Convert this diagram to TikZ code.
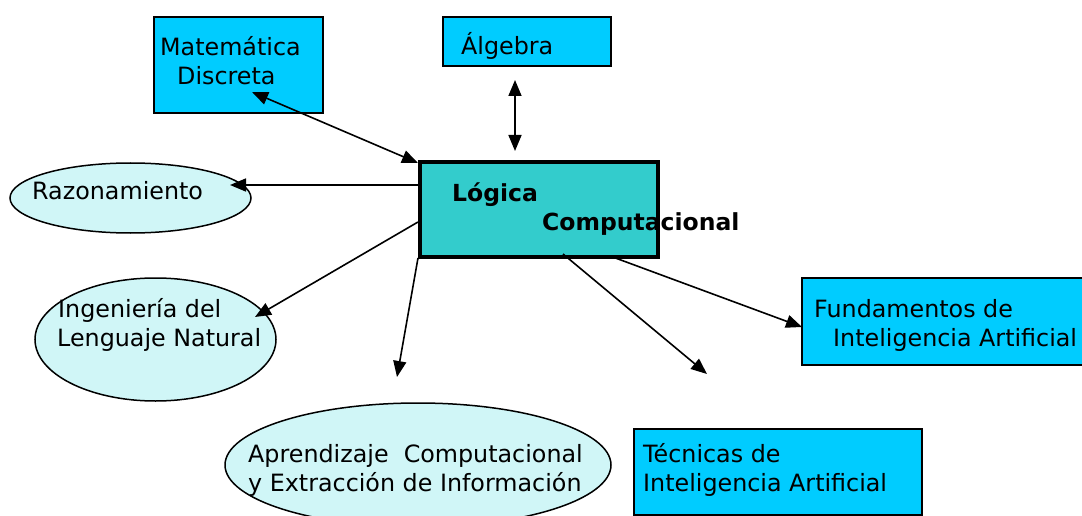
\documentclass[tikz,border=0pt]{standalone}
\usepackage{fontspec}
\setmainfont{DejaVu Sans}
\usetikzlibrary{arrows.meta,shapes.geometric}
\definecolor{boxblue}{RGB}{0,204,255}
\definecolor{logicfill}{RGB}{51,204,204}
\definecolor{ellfill}{RGB}{208,246,247}
\tikzset{
  boxshape/.style={draw=black, line width=1.5pt, fill=boxblue, rectangle, inner sep=0pt},
  ellshape/.style={draw=black, line width=1.5pt, fill=ellfill, ellipse, inner sep=0pt},
  logicshape/.style={draw=black, line width=3.5pt, fill=logicfill, rectangle, inner sep=0pt},
  txt/.style={anchor=base west, inner sep=0pt, font=\fontsize{23.8}{28}\selectfont},
  btxt/.style={anchor=base west, inner sep=0pt, font=\fontsize{23.5}{28}\selectfont\bfseries},
  conn/.style={line width=1.6pt, -{Triangle[length=16pt,width=13pt]}},
  biconn/.style={line width=1.6pt, {Triangle[length=16pt,width=13pt]}-{Triangle[length=16pt,width=13pt]}}
}
\begin{document}
\begin{tikzpicture}[x=1pt,y=-1pt]
\useasboundingbox (0,0) rectangle (1082,516);
\clip (0,0) rectangle (1082,516);
% shapes
\node[boxshape, minimum width=169pt, minimum height=96pt] (mat) at (238.5,65) {};
\node[boxshape, minimum width=168pt, minimum height=49pt] (alg) at (527,41.5) {};
\node[logicshape, minimum width=238pt, minimum height=95pt] (log) at (539,209.5) {};
\node[ellshape, minimum width=241pt, minimum height=70pt] (raz) at (130.5,198) {};
\node[ellshape, minimum width=241pt, minimum height=123pt] (ing) at (155.5,339.5) {};
\node[ellshape, minimum width=386pt, minimum height=124pt] (apr) at (418,465) {};
\node[boxshape, minimum width=288pt, minimum height=86pt] (tec) at (778,472) {};
\node[boxshape, minimum width=298pt, minimum height=87pt] (fun) at (951,321.5) {};
% texts
\node[txt] (t1) at (160,56) {Matemática};
\node[txt] (t2) at (177,85) {Discreta};
\node[txt] (t3) at (461,55) {Álgebra};
\node[btxt] (t4) at (452,201) {Lógica};
\node[btxt] (t5) at (542,230) {Computacional};
\node[txt] (t6) at (32,200) {Razonamiento};
\node[txt] (t7) at (58,317) {Ingeniería del};
\node[txt] (t8) at (57,346) {Lenguaje Natural};
\node[txt] (t9) at (248,462) {Aprendizaje\ \ Computacional};
\node[txt] (t10) at (248,491) {y Extracción de Información};
\node[txt] (t11) at (643,462) {Técnicas de};
\node[txt] (t12) at (643,491) {Inteligencia Artificial};
\node[txt] (t13) at (814,317) {Fundamentos de};
\node[txt] (t14) at (833,346) {Inteligencia Artificial};
% connector end points
\coordinate (matA) at (252,92);
\coordinate (logA) at (418,163);
\coordinate (algA) at (515,80);
\coordinate (logB) at (515,151);
\coordinate (logC) at (418,185);
\coordinate (razA) at (230,185);
\coordinate (logD) at (418,222);
\coordinate (ingA) at (255,317);
\coordinate (logE) at (418,258);
\coordinate (downA) at (397,377);
\coordinate (logF) at (563,254);
\coordinate (tecA) at (707,374);
\coordinate (logG) at (610,256);
\coordinate (funA) at (802,327);
% connectors
\draw[biconn] (matA) -- (logA);
\draw[biconn] (algA) -- (logB);
\draw[conn] (logC) -- (razA);
\draw[conn] (logD) -- (ingA);
\draw[conn] (logE) -- (downA);
\draw[conn] (logF) -- (tecA);
\draw[conn] (logG) -- (funA);
\end{tikzpicture}
\end{document}
